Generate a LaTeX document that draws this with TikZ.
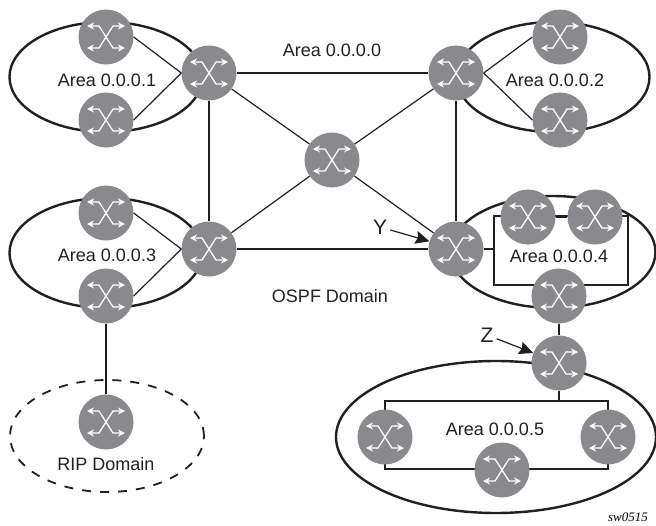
\documentclass[tikz,border=0pt]{standalone}
\usepackage{fontspec}
\setmainfont{Liberation Sans}
\newfontfamily\tagfont{Liberation Serif}
\usepackage{xcolor}
\definecolor{routergray}{HTML}{8A8A8E}
\definecolor{linegray}{HTML}{231F20}
\usetikzlibrary{arrows.meta, shapes.geometric}

\begin{document}
\begin{tikzpicture}[x=1pt, y=-1pt,
  router/.style={circle, fill=routergray, minimum size=55pt, inner sep=0pt,
    path picture={
      \draw [icon, shift={(path picture bounding box.center)}] (-19,-11) -- (-7,-11) -- (7,11) -- (19,11);
      \draw [icon, shift={(path picture bounding box.center)}] (-19,11) -- (-7,11) -- (7,-11) -- (19,-11);
    }},
  %
  icon/.style={draw=white, line width=1.3pt, {Stealth[length=7pt,width=7pt]}-{Stealth[length=7pt,width=7pt]}},
  %
  area/.style={draw=linegray, line width=2.4pt, ellipse, inner sep=0pt},
  %
  link/.style={draw=linegray, line width=1.2pt},
  %
  lbl/.style={font=\fontsize{18}{20}\selectfont, text=linegray, inner sep=0pt},
  %
  tagged/.style={font=\fontsize{21}{23}\selectfont, text=linegray, inner sep=3pt},
  %
  pointer/.style={draw=linegray, line width=1.2pt, -{Stealth[length=14pt,width=13pt,inset=2pt]}}
  ]

  \useasboundingbox (0,0) rectangle (656,525);

  %%%%%%%%%%%%%%%%%%%%%%%%%%%%%%%
  \begin{scope}
    \node [area, minimum width=193pt, minimum height=110pt] (ellA) at (106,77) {};
    \node [area, minimum width=193pt, minimum height=110pt] (ellB) at (553,77) {};
    \node [area, minimum width=193pt, minimum height=110pt] (ellC) at (106,253) {};
    \node [area, minimum width=205pt, minimum height=112pt] (ellD) at (553,252) {};
    \node [area, minimum width=320pt, minimum height=152pt] (ellE) at (496,437) {};
    \node [area, line width=1.8pt, dash pattern=on 9pt off 9pt, minimum width=194pt, minimum height=112pt] (ellRip) at (107,436) {};
  \end{scope}

  \coordinate (boxDnw) at (494,216);
  \coordinate (boxDse) at (628,285);
  \coordinate (boxEnw) at (385,401);
  \coordinate (boxEse) at (608,469);
  \draw [link] (boxDnw) rectangle (boxDse);
  \draw [link] (boxEnw) rectangle (boxEse);

  %%%%%%%%%%%%%%%%%%%%%%%%%%%%%%%
  \node [router] (hubTL) at (209,73) {};
  \node [router] (hubTR) at (456,73) {};
  \node [router] (hubBL) at (209,249) {};
  \node [router] (hubBR) at (456,249) {};
  \node [router] (hubMid) at (332,160) {};
  %
  \node [router] (aTop) at (106,37) {};
  \node [router] (aBot) at (106,120) {};
  \node [router] (bTop) at (560,37) {};
  \node [router] (bBot) at (560,120) {};
  \node [router] (cTop) at (106,213) {};
  \node [router] (cBot) at (106,296) {};
  \node [router] (ripR) at (106,422) {};
  %
  \node [router] (dLeft) at (528,217) {};
  \node [router] (dRight) at (595,217) {};
  \node [router] (dBot) at (559,296) {};
  \node [router] (zR) at (559,363) {};
  %
  \node [router] (eLeft) at (385,437) {};
  \node [router] (eRight) at (608,437) {};
  \node [router] (eBot) at (502,470) {};

  %%%%%%%%%%%%%%%%%%%%%%%%%%%%%%%
  \node [lbl] (txt0) at (332,50) {Area 0.0.0.0};
  \node [lbl] (txt1) at (107,80) {Area 0.0.0.1};
  \node [lbl] (txt2) at (555,80) {Area 0.0.0.2};
  \node [lbl] (txt3) at (107,255) {Area 0.0.0.3};
  \node [lbl] (txt4) at (559,256) {Area 0.0.0.4};
  \node [lbl] (txt5) at (495,429) {Area 0.0.0.5};
  \node [lbl] (txtOspf) at (330,296) {OSPF Domain};
  \node [lbl] (txtRip) at (106,464) {RIP Domain};
  \node [tagged] (txtY) at (380,227) {Y};
  \node [tagged] (txtZ) at (487,335) {Z};
  \node [font=\tagfont\itshape\fontsize{13}{15}\selectfont, inner sep=0pt] (txtTag) at (628,517) {sw0515};

  %%%%%%%%%%%%%%%%%%%%%%%%%%%%%%%
  \begin{scope}
    \draw [link] (hubTL) -- (hubTR);
    \draw [link] (hubTL) -- (hubBL);
    \draw [link] (hubTR) -- (hubBR);
    \draw [link] (hubBL) -- (hubBR);
    \draw [link] (hubTL) -- (hubMid);
    \draw [link] (hubTR) -- (hubMid);
    \draw [link] (hubBL) -- (hubMid);
    \draw [link] (hubBR) -- (hubMid);
    %
    \draw [link] (aTop.east) -- (hubTL.west);
    \draw [link] (aBot.east) -- (hubTL.west);
    \draw [link] (bTop.west) -- (hubTR.east);
    \draw [link] (bBot.west) -- (hubTR.east);
    \draw [link] (cTop.east) -- (hubBL.west);
    \draw [link] (cBot.east) -- (hubBL.west);
    \draw [link] (cBot) -- (ripR);
    %
    \draw [link] (dLeft) -- (dRight);
    \draw [link] (hubBR) -- (hubBR -| boxDnw);
    \draw [link] (dBot) -- (zR);
    \draw [link] (zR) -- (zR |- boxEnw);
    %
    \draw [pointer] (txtY) -- (hubBR);
    \draw [pointer] (txtZ) -- (zR);
  \end{scope}

\end{tikzpicture}
\end{document}
